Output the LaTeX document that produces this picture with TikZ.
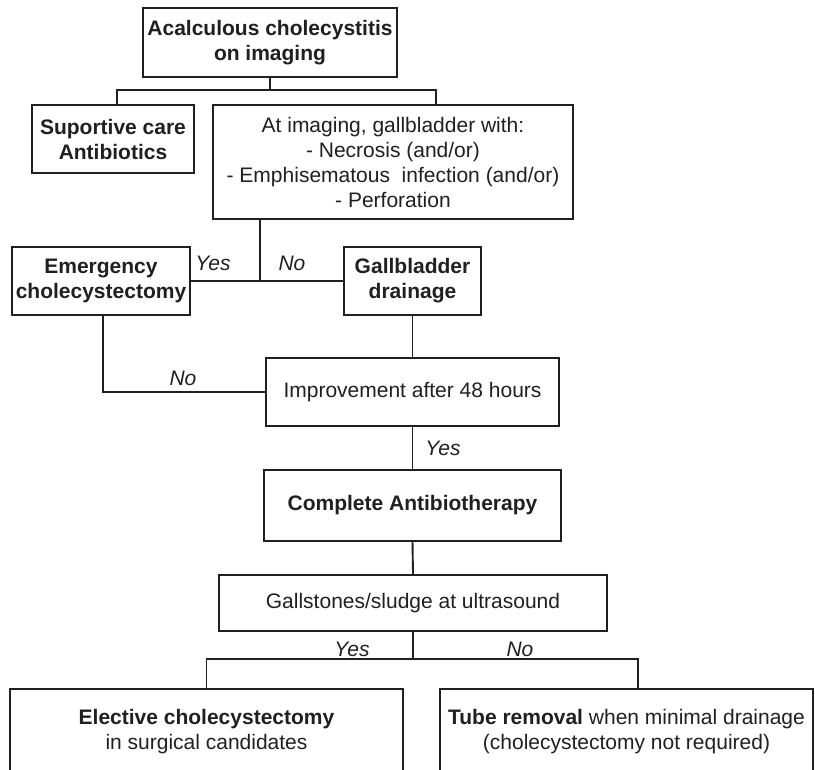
\documentclass[tikz,border=0pt]{standalone}
\usepackage{fontspec}
\setmainfont{Liberation Sans}
\definecolor{ink}{HTML}{202020}
\begin{document}
\begin{tikzpicture}[x=1pt,y=-1pt,
  box/.style={draw=ink,line width=1.9pt,rectangle,inner sep=0pt,align=center,text=ink,
    font=\fontsize{21}{25}\selectfont},
  lbl/.style={font=\fontsize{21}{24}\selectfont\itshape,text=ink,inner sep=0pt},
  conn/.style={draw=ink,line width=1.9pt}]
\useasboundingbox (0,0) rectangle (815,770);
\clip (0,0) rectangle (815,770);
\fill[white] (0,0) rectangle (815,770);
\node[box,minimum width=254pt,minimum height=69pt] (top) at (270,42.5) {\textbf{Acalculous cholecystitis}\\\textbf{on imaging}};
\node[box,minimum width=162pt,minimum height=68pt] (sup) at (113,139) {\textbf{Suportive care}\\\textbf{Antibiotics}};
\node[box,minimum width=360pt,minimum height=114pt] (img) at (393,162) {At imaging, gallbladder with:\\- Necrosis (and/or)\\- Emphisematous\ \ infection (and/or)\\- Perforation};
\node[box,minimum width=178pt,minimum height=68pt] (emg) at (101,281) {\textbf{Emergency}\\\textbf{cholecystectomy}};
\node[box,minimum width=137pt,minimum height=68pt] (gbd) at (412.5,281) {\textbf{Gallbladder}\\\textbf{drainage}};
\node[box,minimum width=293pt,minimum height=68pt] (imp) at (412.5,392) {Improvement after 48 hours};
\node[box,minimum width=297pt,minimum height=71pt] (cab) at (412.5,505.5) {\textbf{Complete Antibiotherapy}};
\node[box,minimum width=388pt,minimum height=56pt] (gal) at (413,603) {Gallstones/sludge at ultrasound};
\node[box,minimum width=393pt,minimum height=86pt] (ele) at (206.5,732) {\textbf{Elective cholecystectomy}\\in surgical candidates};
\node[box,minimum width=373pt,minimum height=86pt] (tub) at (626.5,732) {\textbf{Tube removal} when minimal drainage\\(cholecystectomy not required)};
\coordinate (j1) at (270,90);
\coordinate (j2) at (260,281);
\coordinate (j3) at (413,659);
\draw[conn] (top.south) -- (j1);
\draw[conn] (j1) -| ([xshift=4pt]sup.north);
\draw[conn] (j1) -| ([xshift=43pt]img.north);
\draw[conn] (emg.east) -- (gbd.west);
\draw[conn] ([xshift=-133pt]img.south) -- (j2);
\draw[conn] ([xshift=2pt]emg.south) |- (imp.west);
\draw[conn] (gbd.south) -- (imp.north);
\draw[conn] (imp.south) -- (cab.north);
\draw[conn] (cab.south) -- (gal.north);
\draw[conn] (gal.south) -- (j3);
\draw[conn] (j3) -| (ele.north);
\draw[conn] (j3) -| ([xshift=11.5pt]tub.north);
\node[lbl] (l1) at (213,263) {Yes};
\node[lbl] (l2) at (292,263) {No};
\node[lbl] (l3) at (183,378) {No};
\node[lbl] (l4) at (443,448) {Yes};
\node[lbl] (l5) at (352,649) {Yes};
\node[lbl] (l6) at (520,649) {No};
\end{tikzpicture}
\end{document}
